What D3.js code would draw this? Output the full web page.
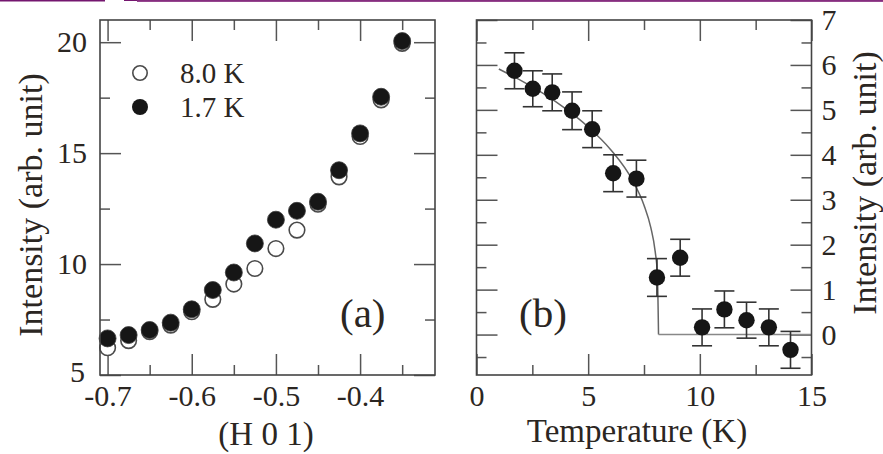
<!DOCTYPE html>
<html>
<head>
<meta charset="utf-8">
<script src="https://cdn.jsdelivr.net/npm/d3@7"></script>
<style>
  html, body { margin: 0; padding: 0; background: #fff; }
  svg text { font-family: "Liberation Serif", "Times New Roman", "DejaVu Serif", serif; fill: #2b2622; }
</style>
</head>
<body>
<div id="chart"></div>
<script>
// --- Data: panel (a), scan along (H 0 1) ---
const hValues = [-0.7, -0.675, -0.65, -0.625, -0.6, -0.575, -0.55, -0.525, -0.5, -0.475, -0.45, -0.425, -0.4, -0.375, -0.35];
const int8K   = [6.23, 6.55, 6.95, 7.25, 7.85, 8.41, 9.10, 9.80, 10.70, 11.53, 12.70, 13.93, 15.75, 17.40, 19.95];
const int17K  = [6.65, 6.80, 7.03, 7.36, 7.96, 8.83, 9.62, 10.93, 12.00, 12.40, 12.81, 14.23, 15.89, 17.54, 20.05];
const legendLabels = ['8.0 K', '1.7 K'];

// --- Data: panel (b), temperature dependence ---
const tempValues    = [1.70, 2.52, 3.39, 4.28, 5.18, 6.12, 7.16, 8.08, 9.12, 10.10, 11.10, 12.09, 13.09, 14.06];
const tempIntensity = [5.87, 5.47, 5.39, 4.98, 4.57, 3.59, 3.47, 1.27, 1.71, 0.16, 0.56, 0.32, 0.16, -0.34];
const tempError     = [0.40, 0.40, 0.41, 0.42, 0.41, 0.41, 0.41, 0.42, 0.41, 0.41, 0.41, 0.40, 0.41, 0.41];

// fit curve
const fitT = [1.0, 2.0, 3.0, 4.0, 5.0, 6.0, 7.0, 7.5, 7.8, 8.0, 8.1, 8.15, 8.15, 15.0];
const fitI = [5.91, 5.65, 5.36, 5.02, 4.62, 4.12, 3.42, 2.88, 2.39, 1.85, 1.33, 0.0, 0.0, 0.0];

// --- Ticks ---
const aXMajor = [-0.7, -0.6, -0.5, -0.4];
const aXMinor = [-0.65, -0.55, -0.45, -0.35];
const aYMajor = [5, 10, 15, 20];
const aYMinor = [7.5, 12.5, 17.5];
const bXMajor = [0, 5, 10, 15];
const bXMinor = [2.5, 7.5, 12.5];
const bYMajor = [0, 1, 2, 3, 4, 5, 6, 7];
const bYMinor = [-0.5, 0.5, 1.5, 2.5, 3.5, 4.5, 5.5, 6.5];

// --- Layout ---
const WIDTH = 883, HEIGHT = 454;
const TOP = 20, BOTTOM = 375;
const MAJOR = 21, MINOR = 10;
const FRAME = '#444';
const SERIF = '"Liberation Serif", "Times New Roman", "DejaVu Serif", serif';

const svg = d3.select('#chart').append('svg')
    .attr('width', WIDTH)
    .attr('height', HEIGHT);

// purple header rule at the very top
svg.append('rect').attr('x', 0).attr('y', 0).attr('width', 105).attr('height', 1.5).attr('fill', '#74166f');
svg.append('rect').attr('x', 124).attr('y', 0).attr('width', 759).attr('height', 1).attr('fill', '#74166f');
svg.append('rect').attr('x', 137).attr('y', 0.5).attr('width', 746).attr('height', 1.5).attr('fill', '#96468f');

/**
 * Draws inward ticks on one side of a frame.
 */
function ticks(g, axisFn, scale, major, minor, translate, labels) {
    const a = g.append('g').attr('transform', translate);
    a.call(axisFn(scale).tickValues(minor).tickSize(-MINOR).tickFormat(''));
    const m = g.append('g').attr('transform', translate);
    m.call(axisFn(scale).tickValues(major).tickSize(-MAJOR).tickPadding(labels ? 6 : 0)
        .tickFormat(labels ? (d => String(d)) : ''));
    [a, m].forEach(s => {
        s.attr('font-family', SERIF);
        s.select('.domain').remove();
        s.selectAll('line').attr('stroke', '#555').attr('stroke-width', 1.5);
        s.selectAll('text').attr('font-size', 30).attr('fill', '#2b2622');
    });
    return m;
}

function frame(x0, x1) {
    svg.append('rect')
        .attr('x', x0).attr('y', TOP)
        .attr('width', x1 - x0).attr('height', BOTTOM - TOP)
        .attr('fill', 'none').attr('stroke', FRAME).attr('stroke-width', 1.6);
}

// --- Panel (a) ---
const ax = d3.scaleLinear().domain([-0.709, -0.311]).range([100, 435]);
const ay = d3.scaleLinear().domain([5, 21]).range([BOTTOM, TOP]);
const ga = svg.append('g');

const axB = ticks(ga, d3.axisBottom, ax, aXMajor, aXMinor, `translate(0,${BOTTOM})`, true);
axB.selectAll('text').attr('dy', '0.71em').attr('y', 10);
ticks(ga, d3.axisTop, ax, aXMajor, aXMinor, `translate(0,${TOP})`, false);
const ayL = ticks(ga, d3.axisLeft, ay, aYMajor, aYMinor, `translate(100,0)`, true);
ayL.selectAll('text').attr('x', -13);
ayL.selectAll('.tick').filter(d => d === 5).select('text').attr('dy', '0.2em').attr('x', -15);
ticks(ga, d3.axisRight, ay, aYMajor, aYMinor, `translate(435,0)`, false);
frame(100, 435);

const aPoints = hValues.map((h, i) => ({ h, warm: int8K[i], cold: int17K[i] }));
ga.append('g').selectAll('circle.open').data(aPoints).join('circle')
    .attr('class', 'open')
    .attr('cx', d => ax(d.h)).attr('cy', d => ay(d.warm)).attr('r', 7.8)
    .attr('fill', '#fff').attr('stroke', '#4a4a4a').attr('stroke-width', 1.6);
ga.append('g').selectAll('circle.fill').data(aPoints).join('circle')
    .attr('class', 'fill')
    .attr('cx', d => ax(d.h)).attr('cy', d => ay(d.cold)).attr('r', 8.5)
    .attr('fill', '#161616').attr('stroke', '#3a3a3a').attr('stroke-width', 0.8);

// legend
const legend = ga.append('g');
legend.append('circle').attr('cx', 140).attr('cy', 73).attr('r', 7.2)
    .attr('fill', '#fff').attr('stroke', '#4a4a4a').attr('stroke-width', 1.6);
legend.append('circle').attr('cx', 140).attr('cy', 107).attr('r', 8)
    .attr('fill', '#161616');
legend.selectAll('text').data(legendLabels).join('text')
    .attr('x', 180).attr('y', (d, i) => 83 + i * 33.5)
    .attr('font-size', 29).text(d => d);

ga.append('text').attr('x', 340).attr('y', 327).attr('font-size', 41).text('(a)');
ga.append('text').attr('x', 266).attr('y', 445).attr('text-anchor', 'middle')
    .attr('font-size', 33).text('(H 0 1)');
ga.append('text')
    .attr('transform', 'translate(42,205) rotate(-90)')
    .attr('text-anchor', 'middle').attr('font-size', 34)
    .text('Intensity (arb. unit)');

// --- Panel (b) ---
const bx = d3.scaleLinear().domain([0, 15]).range([476.5, 811.5]);
const by = d3.scaleLinear().domain([-0.9, 7]).range([BOTTOM, TOP]);
const gb = svg.append('g');

const bxB = ticks(gb, d3.axisBottom, bx, bXMajor, bXMinor, `translate(0,${BOTTOM})`, true);
bxB.selectAll('text').attr('dy', '0.71em').attr('y', 10);
ticks(gb, d3.axisTop, bx, bXMajor, bXMinor, `translate(0,${TOP})`, false);
ticks(gb, d3.axisLeft, by, bYMajor, bYMinor, `translate(476.5,0)`, false);
const byR = ticks(gb, d3.axisRight, by, bYMajor, bYMinor, `translate(811.5,0)`, true);
byR.selectAll('text').attr('x', 10);

const fitPts = fitT.map((t, i) => [t, fitI[i]]);
gb.append('path')
    .datum(fitPts.slice(0, 12))
    .attr('d', d3.line().x(d => bx(d[0])).y(d => by(d[1])).curve(d3.curveMonotoneX))
    .attr('fill', 'none').attr('stroke', '#666').attr('stroke-width', 1.5);
gb.append('path')
    .datum(fitPts.slice(11))
    .attr('d', d3.line().x(d => bx(d[0])).y(d => by(d[1])))
    .attr('fill', 'none').attr('stroke', '#888').attr('stroke-width', 1.6);

frame(476.5, 811.5);

const bPoints = tempValues.map((t, i) => ({ t, v: tempIntensity[i], e: tempError[i] }));
const err = gb.append('g').attr('stroke', '#333').attr('stroke-width', 1.6);
err.selectAll('line.v').data(bPoints).join('line').attr('class', 'v')
    .attr('x1', d => bx(d.t)).attr('x2', d => bx(d.t))
    .attr('y1', d => by(d.v - d.e)).attr('y2', d => by(d.v + d.e));
err.selectAll('line.top').data(bPoints).join('line').attr('class', 'top')
    .attr('x1', d => bx(d.t) - 10).attr('x2', d => bx(d.t) + 10)
    .attr('y1', d => by(d.v + d.e)).attr('y2', d => by(d.v + d.e));
err.selectAll('line.bot').data(bPoints).join('line').attr('class', 'bot')
    .attr('x1', d => bx(d.t) - 10).attr('x2', d => bx(d.t) + 10)
    .attr('y1', d => by(d.v - d.e)).attr('y2', d => by(d.v - d.e));
gb.append('g').selectAll('circle').data(bPoints).join('circle')
    .attr('cx', d => bx(d.t)).attr('cy', d => by(d.v)).attr('r', 8.2)
    .attr('fill', '#161616');

gb.append('text').attr('x', 519).attr('y', 327).attr('font-size', 41).text('(b)');
gb.append('text').attr('x', 637).attr('y', 442).attr('text-anchor', 'middle')
    .attr('font-size', 33).text('Temperature (K)');
gb.append('text')
    .attr('transform', 'translate(876,183) rotate(-90)')
    .attr('text-anchor', 'middle').attr('font-size', 34)
    .text('Intensity (arb. unit)');
</script>
</body>
</html>
